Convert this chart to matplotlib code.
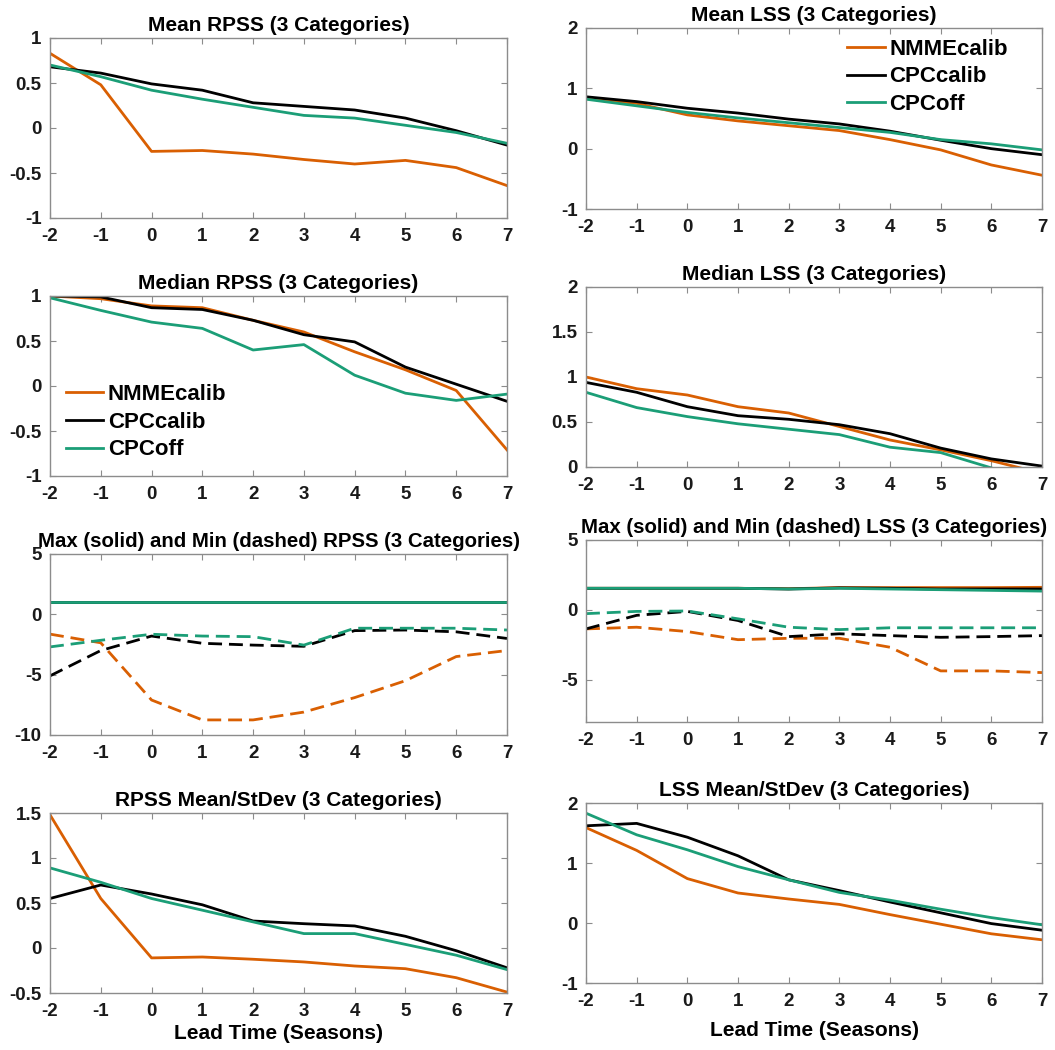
import matplotlib
matplotlib.use("Agg")
import matplotlib.pyplot as plt
from matplotlib.ticker import FormatStrFormatter

plt.rcParams['font.family'] = ['Liberation Sans', 'DejaVu Sans']
plt.rcParams['font.weight'] = 'bold'
plt.rcParams['axes.unicode_minus'] = False

lead = [-2, -1, 0, 1, 2, 3, 4, 5, 6, 7]
names = ["NMMEcalib", "CPCcalib", "CPCoff"]
colors = ["#D95F02", "black", "#1B9E77"]

# Mean RPSS
mean_rpss_nmme = [0.83, 0.48, -0.26, -0.25, -0.29, -0.35, -0.40, -0.36, -0.44, -0.64]
mean_rpss_cpc = [0.68, 0.61, 0.49, 0.42, 0.28, 0.24, 0.20, 0.11, -0.03, -0.19]
mean_rpss_off = [0.70, 0.57, 0.42, 0.32, 0.23, 0.14, 0.11, 0.03, -0.05, -0.17]

# Mean LSS
mean_lss_nmme = [0.83, 0.75, 0.56, 0.46, 0.38, 0.30, 0.15, -0.02, -0.27, -0.44]
mean_lss_cpc = [0.86, 0.78, 0.67, 0.59, 0.49, 0.41, 0.29, 0.14, 0.0, -0.10]
mean_lss_off = [0.82, 0.71, 0.60, 0.51, 0.43, 0.35, 0.27, 0.15, 0.08, -0.02]

# Median RPSS
med_rpss_nmme = [1.0, 0.97, 0.89, 0.87, 0.73, 0.60, 0.38, 0.18, -0.05, -0.71]
med_rpss_cpc = [1.0, 0.99, 0.87, 0.85, 0.73, 0.57, 0.49, 0.21, 0.02, -0.17]
med_rpss_off = [0.98, 0.84, 0.71, 0.64, 0.40, 0.46, 0.12, -0.08, -0.16, -0.09]

# Median LSS
med_lss_nmme = [1.0, 0.87, 0.80, 0.67, 0.60, 0.45, 0.30, 0.19, 0.07, -0.07]
med_lss_cpc = [0.94, 0.83, 0.67, 0.57, 0.53, 0.47, 0.37, 0.21, 0.09, 0.01]
med_lss_off = [0.83, 0.66, 0.56, 0.48, 0.42, 0.36, 0.22, 0.16, -0.01, -0.2]

# Max / Min RPSS
max_rpss_nmme = [1.0, 1.0, 1.0, 1.0, 1.0, 1.0, 1.0, 1.0, 1.0, 1.0]
max_rpss_cpc = [1.0, 1.0, 1.0, 1.0, 1.0, 1.0, 1.0, 1.0, 1.0, 1.0]
max_rpss_off = [1.0, 1.0, 1.0, 1.0, 1.0, 1.0, 1.0, 1.0, 1.0, 1.0]
min_rpss_nmme = [-1.64, -2.36, -7.1, -8.75, -8.75, -8.1, -6.9, -5.5, -3.5, -3.0]
min_rpss_cpc = [-5.1, -3.0, -1.8, -2.4, -2.55, -2.65, -1.35, -1.3, -1.45, -2.0]
min_rpss_off = [-2.7, -2.15, -1.65, -1.8, -1.85, -2.55, -1.15, -1.15, -1.15, -1.3]

# Max / Min LSS
max_lss_nmme = [1.55, 1.55, 1.55, 1.55, 1.52, 1.6, 1.6, 1.6, 1.6, 1.62]
max_lss_cpc = [1.55, 1.55, 1.55, 1.55, 1.5, 1.58, 1.55, 1.5, 1.5, 1.5]
max_lss_off = [1.55, 1.55, 1.55, 1.55, 1.5, 1.55, 1.5, 1.45, 1.4, 1.35]
min_lss_nmme = [-1.35, -1.23, -1.54, -2.12, -2.02, -2.02, -2.66, -4.35, -4.35, -4.47]
min_lss_cpc = [-1.35, -0.38, -0.1, -0.75, -1.9, -1.7, -1.83, -1.95, -1.9, -1.83]
min_lss_off = [-0.26, -0.1, -0.07, -0.63, -1.23, -1.4, -1.27, -1.27, -1.27, -1.27]

# Mean/StDev
ratio_rpss_nmme = [1.48, 0.55, -0.11, -0.10, -0.125, -0.155, -0.2, -0.23, -0.33, -0.49]
ratio_rpss_cpc = [0.55, 0.70, 0.60, 0.48, 0.30, 0.27, 0.245, 0.13, -0.03, -0.22]
ratio_rpss_off = [0.89, 0.73, 0.55, 0.42, 0.29, 0.16, 0.16, 0.04, -0.08, -0.24]

ratio_lss_nmme = [1.59, 1.21, 0.74, 0.50, 0.40, 0.31, 0.14, -0.02, -0.18, -0.28]
ratio_lss_cpc = [1.62, 1.66, 1.43, 1.12, 0.72, 0.54, 0.35, 0.17, -0.01, -0.12]
ratio_lss_off = [1.83, 1.47, 1.22, 0.94, 0.72, 0.51, 0.38, 0.23, 0.09, -0.03]

W, H = 1055, 1050
fig = plt.figure(figsize=(W / 100, H / 100), dpi=100)


def make_ax(x0, y0, x1, y1):
    ax = fig.add_axes([x0 / W, 1 - y1 / H, (x1 - x0) / W, (y1 - y0) / H])
    for s in ax.spines.values():
        s.set_color("#8c8c8c")
        s.set_linewidth(1.0)
    ax.tick_params(direction="in", top=True, right=True, length=4,
                   color="#8c8c8c", labelsize=13.5, labelcolor="#1a1a1a")
    ax.tick_params(axis="x", pad=7)
    ax.tick_params(axis="y", pad=6)
    ax.set_xlim(-2, 7)
    ax.set_xticks(lead)
    ax.yaxis.set_major_formatter(FormatStrFormatter('%g'))
    return ax


def draw(ax, series, title, ylim, yticks, ls="-", tsize=15):
    for y, c, n in zip(series, colors, names):
        ax.plot(lead, y, color=c, lw=2.0, ls=ls, label=n)
    ax.set_ylim(*ylim)
    ax.set_yticks(yticks)
    ax.set_title(title, fontsize=tsize, fontweight="bold", pad=5)


L0, L1 = 50, 507
R0, R1 = 586, 1042
dash = (0, (5, 2.5))
leg_kw = dict(frameon=False, fontsize=16, handlelength=1.7,
              handletextpad=0.2, labelspacing=0.3)

ax1 = make_ax(L0, 38, L1, 218)
draw(ax1, [mean_rpss_nmme, mean_rpss_cpc, mean_rpss_off], "Mean RPSS (3 Categories)",
     (-1, 1), [-1, -0.5, 0, 0.5, 1])

ax2 = make_ax(R0, 28, R1, 209)
draw(ax2, [mean_lss_nmme, mean_lss_cpc, mean_lss_off], "Mean LSS (3 Categories)",
     (-1, 2), [-1, 0, 1, 2])
ax2.legend(loc="upper right", bbox_to_anchor=(0.945, 0.99), borderaxespad=0, **leg_kw)

ax3 = make_ax(L0, 296, L1, 476)
draw(ax3, [med_rpss_nmme, med_rpss_cpc, med_rpss_off], "Median RPSS (3 Categories)",
     (-1, 1), [-1, -0.5, 0, 0.5, 1])
ax3.legend(loc="lower left", borderaxespad=0.3, **leg_kw)

ax4 = make_ax(R0, 287, R1, 467)
draw(ax4, [med_lss_nmme, med_lss_cpc, med_lss_off], "Median LSS (3 Categories)",
     (0, 2), [0, 0.5, 1, 1.5, 2])

ax5 = make_ax(L0, 554, L1, 735)
t5 = "Max (solid) and Min (dashed) RPSS (3 Categories)"
draw(ax5, [max_rpss_nmme, max_rpss_cpc, max_rpss_off], t5, (-10, 5), [-10, -5, 0, 5], tsize=14.7)
draw(ax5, [min_rpss_nmme, min_rpss_cpc, min_rpss_off], t5, (-10, 5), [-10, -5, 0, 5], ls=dash,
     tsize=14.7)

ax6 = make_ax(R0, 540, R1, 722)
t6 = "Max (solid) and Min (dashed) LSS (3 Categories)"
draw(ax6, [max_lss_nmme, max_lss_cpc, max_lss_off], t6, (-8, 5), [-5, 0, 5], tsize=14.7)
draw(ax6, [min_lss_nmme, min_lss_cpc, min_lss_off], t6, (-8, 5), [-5, 0, 5], ls=dash, tsize=14.7)

ax7 = make_ax(L0, 813, L1, 993)
draw(ax7, [ratio_rpss_nmme, ratio_rpss_cpc, ratio_rpss_off], "RPSS Mean/StDev (3 Categories)",
     (-0.5, 1.5), [-0.5, 0, 0.5, 1, 1.5])
ax7.set_xlabel("Lead Time (Seasons)", fontsize=15, fontweight="bold", labelpad=3)

ax8 = make_ax(R0, 803, R1, 983)
draw(ax8, [ratio_lss_nmme, ratio_lss_cpc, ratio_lss_off], "LSS Mean/StDev (3 Categories)",
     (-1, 2), [-1, 0, 1, 2])
ax8.set_xlabel("Lead Time (Seasons)", fontsize=15, fontweight="bold", labelpad=8)

fig.savefig("out.png", dpi=100)
